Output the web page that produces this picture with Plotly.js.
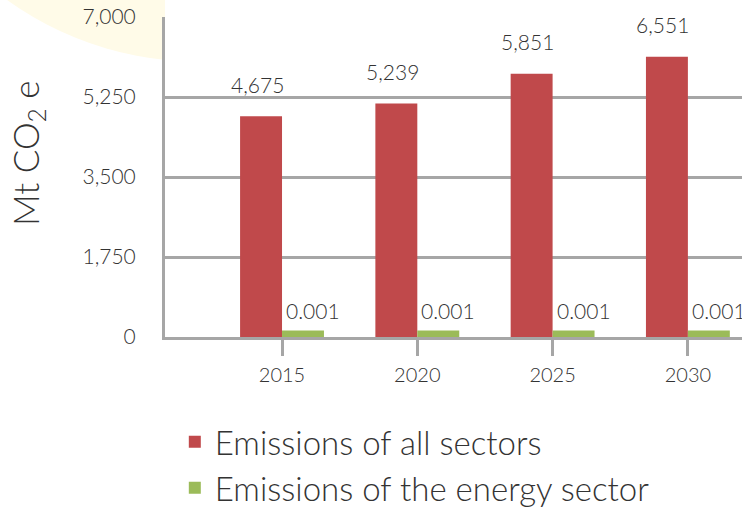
<!DOCTYPE html>
<html>
<head>
<meta charset="utf-8">
<script src="https://cdn.plot.ly/plotly-3.0.1.min.js"></script>
<style>
  html, body { margin: 0; padding: 0; background: #ffffff; }
  #chart { width: 742px; height: 516px; }
</style>
</head>
<body>
<div id="chart"></div>
<script>
// ---- data ----
const years = ['2015', '2020', '2025', '2030'];
// values printed above the red bars
const allSectorsLabels = [4675, 5239, 5851, 6551];
// heights of the red bars as drawn against the axis
const allSectorsHeights = [4830, 5110, 5760, 6130];
// values printed above the green bars
const energySectorLabels = ['0.001', '0.001', '0.001', '0.001'];
// heights of the green bars as drawn against the axis
const energySectorHeights = [140, 140, 140, 140];
const yTickVals = [0, 1750, 3500, 5250, 7000];
const seriesNames = ['Emissions of all sectors', 'Emissions of the energy sector'];

const FONT = 'Lato, "Open Sans", sans-serif';
const TEXT = '#333333';
const GRID = '#a6a6a6';
const RED = '#c0494b';
const GREEN = '#9bbb59';

const traces = [
  {
    type: 'bar', name: seriesNames[0], x: years, y: allSectorsHeights,
    marker: { color: RED }, hoverinfo: 'skip'
  },
  {
    type: 'bar', name: seriesNames[1], x: years, y: energySectorHeights,
    marker: { color: GREEN }, hoverinfo: 'skip'
  }
];

const annotations = [];
years.forEach((yr, i) => {
  annotations.push({
    x: i, y: allSectorsHeights[i], xref: 'x', yref: 'y',
    text: allSectorsLabels[i].toLocaleString('en-US'),
    showarrow: false, xanchor: 'center', yanchor: 'middle',
    xshift: -25, yshift: 32,
    font: { family: FONT, size: 21, color: TEXT, weight: 300 }
  });
  annotations.push({
    x: i, y: energySectorHeights[i], xref: 'x', yref: 'y',
    text: energySectorLabels[i],
    showarrow: false, xanchor: 'center', yanchor: 'middle',
    xshift: 31, yshift: 20,
    font: { family: FONT, size: 21, color: TEXT, weight: 300 }
  });
});
annotations.push({
  xref: 'paper', yref: 'paper', x: -0.239, y: 0.575,
  text: 'Mt CO<sub>2</sub> e', textangle: -90, showarrow: false,
  xanchor: 'center', yanchor: 'middle',
  font: { family: FONT, size: 35, color: TEXT, weight: 300 }
});

const layout = {
  width: 742, height: 516,
  margin: { l: 165, r: 0, t: 17, b: 171 },
  paper_bgcolor: '#ffffff',
  plot_bgcolor: 'rgba(0,0,0,0)',
  barmode: 'group', bargap: 0.38, bargroupgap: 0,
  showlegend: true,
  legend: {
    orientation: 'v', x: 0.017, y: -0.24, xanchor: 'left', yanchor: 'top',
    font: { family: FONT, size: 33, color: TEXT, weight: 300 },
    bgcolor: 'rgba(0,0,0,0)'
  },
  xaxis: {
    type: 'category', range: [-0.865, 3.40],
    showgrid: false, showline: true, linecolor: GRID, linewidth: 3,
    ticks: 'outside', ticklen: 16, tickwidth: 3, tickcolor: GRID,
    tickfont: { family: FONT, size: 20, color: TEXT, weight: 300 },
    ticklabelstandoff: 2,
    fixedrange: true
  },
  yaxis: {
    range: [0, 7000], tickvals: yTickVals,
    ticktext: yTickVals.map(v => v.toLocaleString('en-US')),
    showgrid: true, gridcolor: GRID, gridwidth: 3,
    showline: true, linecolor: GRID, linewidth: 3,
    zeroline: false, ticks: '',
    tickfont: { family: FONT, size: 21, color: TEXT, weight: 300 },
    ticklabelstandoff: 22,
    fixedrange: true
  },
  shapes: [
    {
      type: 'circle', xref: 'paper', yref: 'paper', layer: 'below',
      x0: (200 - 325 - 165) / 577, x1: (200 + 325 - 165) / 577,
      y0: (345 - (-262 + 325)) / 328, y1: (345 - (-262 - 325)) / 328,
      fillcolor: '#fffbe8', line: { width: 0 }
    },
    {
      type: 'rect', xref: 'paper', yref: 'paper', layer: 'below',
      x0: 0, x1: 1.05, y0: 0, y1: 1.2,
      fillcolor: '#ffffff', line: { width: 0 }
    }
  ],
  annotations: annotations
};

Plotly.newPlot('chart', traces, layout, { displayModeBar: false, staticPlot: true });
</script>
</body>
</html>
